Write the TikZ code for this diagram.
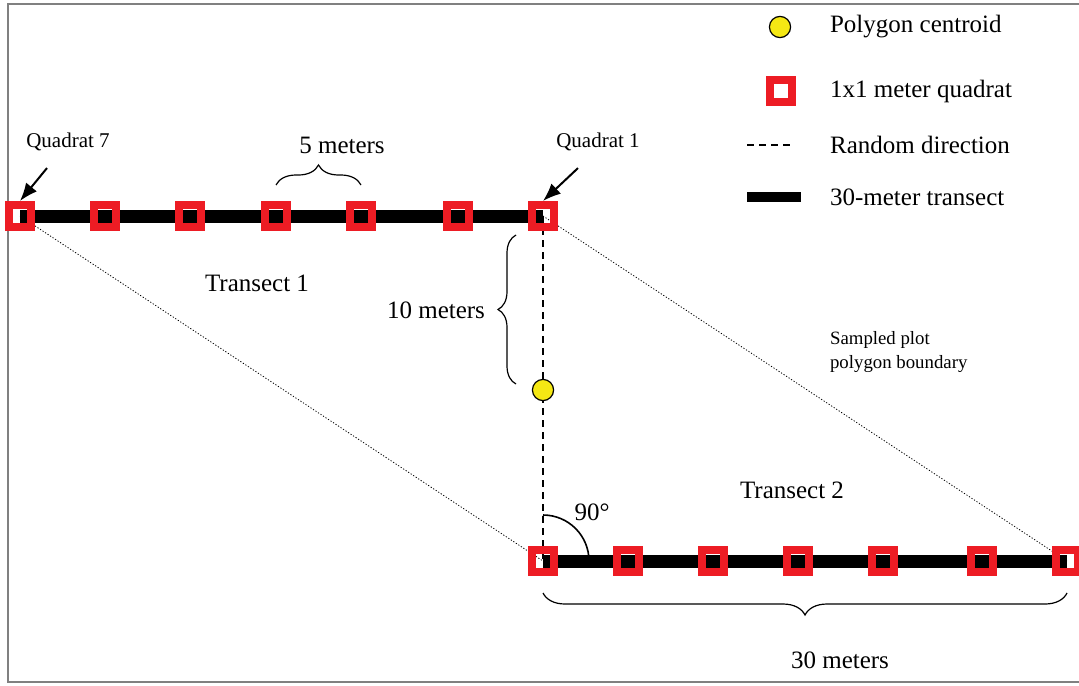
\documentclass[tikz,border=0pt]{standalone}
\usepackage{fontspec}
\setmainfont{Liberation Serif}
\usetikzlibrary{positioning}
\usetikzlibrary{arrows.meta}
\usetikzlibrary{decorations.pathreplacing}
\usetikzlibrary{calc}

\definecolor{qred}{RGB}{237,28,36}
\definecolor{cyellow}{RGB}{245,232,20}

\tikzset{
	quadrat/.style={draw=qred, line width=4pt, minimum size=11pt, inner sep=0pt},
	centroid/.style={circle, draw, fill=cyellow, line width=0.6pt, minimum size=10.6pt, inner sep=0pt},
	transect/.style={line width=6.5pt},
	randomdir/.style={line width=1pt, dash pattern=on 3.5pt off 2.5pt},
	boundary/.style={line width=0.4pt, dash pattern=on 0.6pt off 0.9pt},
	pointer/.style={-{Latex[length=9pt,width=7pt]}, line width=1pt},
	bracedeco/.style={decorate, decoration={brace, amplitude=#1}, line width=0.6pt},
}

\begin{document}
\begin{tikzpicture}[x=0.5pt, y=-0.5pt, font=\fontsize{12.5}{15}\selectfont]

	\def\ya{216};
	\def\yb{561};

	\useasboundingbox (0,0) rectangle (1079,685);
	\draw[line width=1pt, gray] (1079,4) -- (8,4) -- (8,682) -- (1079,682);

	% quadrat centres, quadrat 7 on the left
	\foreach \i/\x in {7/20, 6/105, 5/190, 4/276, 3/361, 2/458, 1/543}{
		\coordinate (a\i) at (\x, \ya);
	}
	\foreach \i/\x in {1/543, 2/628, 3/713, 4/798, 5/883, 6/982, 7/1067}{
		\coordinate (b\i) at (\x, \yb);
	}

	% plot polygon and random direction
	\draw[boundary] (a7) -- (b1);
	\draw[boundary] (a1) -- (b7);
	\draw[randomdir] (a1) -- (b1);

	\draw[transect] (a7) -- (a1);
	\draw[transect] (b1) -- (b7);

	\foreach \i in {1,...,7}{
		\node[quadrat] (qa\i) at (a\i) {};
		\node[quadrat] (qb\i) at (b\i) {};
	}

	\node[centroid] (ctr) at (543,390) {};

	% labels
	\node[font=\fontsize{10.5}{12}\selectfont] (lq7) at (68,142) {Quadrat 7};
	\node[font=\fontsize{10.5}{12}\selectfont] (lq1) at (598,142) {Quadrat 1};
	\draw[pointer] ($(lq7.south)+(-21,10)$) -- (qa7.north);
	\draw[pointer] ($(lq1.south)+(-20,10)$) -- (qa1.north);

	\node (t1) at (257,283) {Transect 1};
	\node (t2) at (792,490) {Transect 2};
	\node[font=\fontsize{9.4}{12}\selectfont, align=left, anchor=west] (poly) at (823,352) {Sampled plot\\polygon boundary};

	% braces
	\draw[bracedeco=10pt] ($(a4)+(0,-31)$) -- ($(a3)+(0,-31)$);
	\node (m5) at (342,145) {5 meters};
	\draw[bracedeco=9pt] ($(ctr.center)+(-27,-6)$) -- ($(a1)+(-27,19)$);
	\node (m10) at (436,310) {10 meters};
	\draw[bracedeco=11pt] ($(b7)+(0,32)$) -- ($(b1)+(0,32)$);
	\node (m30) at (840,660) {30 meters};

	% right angle
	\draw[line width=0.8pt] ($(b1)+(0,-46)$) arc[start angle=-90, end angle=0, radius=46];
	\node (ang) at (592,512) {90\textdegree};

	% legend
	\node[centroid] (lgc) at (780,27) {};
	\node[anchor=west] (lgctxt) at (823,27) {Polygon centroid};
	\node[quadrat] (lgq) at (781,91) {};
	\node[anchor=west] (lgqtxt) at (823,91) {1x1 meter quadrat};
	\coordinate (lgd1) at (747,145);
	\coordinate (lgd2) at (792,145);
	\draw[randomdir] (lgd1) -- (lgd2);
	\node[anchor=west] (lgdtxt) at (823,145) {Random direction};
	\coordinate (lgt1) at (747,197);
	\coordinate (lgt2) at (801,197);
	\draw[line width=5pt] (lgt1) -- (lgt2);
	\node[anchor=west] (lgttxt) at (823,197) {30-meter transect};

\end{tikzpicture}
\end{document}
